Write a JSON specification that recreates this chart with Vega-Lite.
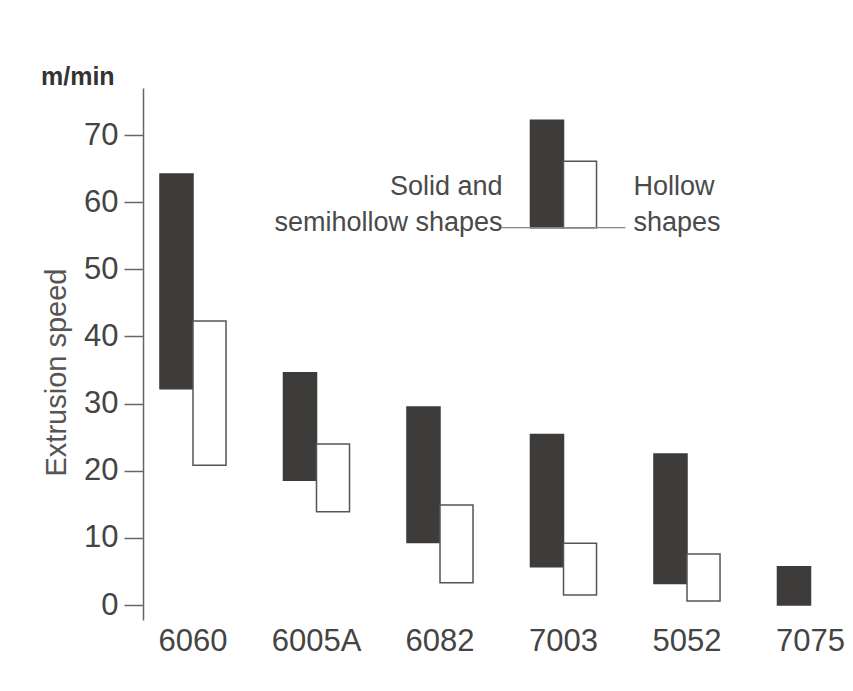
{
  "$schema": "https://vega.github.io/schema/vega-lite/v6.json",
  "width": 692,
  "height": 532,
  "autosize": {"type": "none"},
  "padding": {"left": 143, "top": 88, "right": 18, "bottom": 71},
  "background": "white",
  "title": {
    "text": "m/min",
    "anchor": "start",
    "frame": "group",
    "dx": -102,
    "offset": -22,
    "baseline": "alphabetic",
    "font": "Liberation Sans",
    "fontSize": 25,
    "fontWeight": "bold",
    "color": "#333333"
  },
  "datasets": {
    "speeds": [
      {"alloy": "6060", "type": "Solid", "low": 32.2, "high": 64.2},
      {"alloy": "6060", "type": "Hollow", "low": 20.8, "high": 42.3},
      {"alloy": "6005A", "type": "Solid", "low": 18.6, "high": 34.6},
      {"alloy": "6005A", "type": "Hollow", "low": 13.9, "high": 24.0},
      {"alloy": "6082", "type": "Solid", "low": 9.3, "high": 29.5},
      {"alloy": "6082", "type": "Hollow", "low": 3.3, "high": 14.9},
      {"alloy": "7003", "type": "Solid", "low": 5.7, "high": 25.4},
      {"alloy": "7003", "type": "Hollow", "low": 1.5, "high": 9.2},
      {"alloy": "5052", "type": "Solid", "low": 3.2, "high": 22.5},
      {"alloy": "5052", "type": "Hollow", "low": 0.6, "high": 7.6},
      {"alloy": "7075", "type": "Solid", "low": 0, "high": 5.7}
    ],
    "legendBars": [
      {"alloy": "7003", "type": "Solid", "low": 56.2, "high": 72.2},
      {"alloy": "7003", "type": "Hollow", "low": 56.2, "high": 66.1}
    ],
    "legendLine": [
      {"alloy": "7003", "y": 56.2}
    ],
    "legendText": [
      {"alloy": "7003", "side": "left", "label": "Solid and\nsemihollow shapes", "y": 61.1},
      {"alloy": "7003", "side": "right", "label": "Hollow\nshapes", "y": 61.1}
    ]
  },
  "layer": [
    {
      "data": {"name": "speeds"},
      "mark": {"type": "bar", "strokeWidth": 1.5},
      "encoding": {
        "x": {
          "field": "alloy", "type": "nominal",
          "sort": ["6060", "6005A", "6082", "7003", "5052", "7075"],
          "scale": {"range": [-11.75, 729.25], "paddingInner": 0, "paddingOuter": 0},
          "axis": {"title": null, "domain": false, "ticks": false, "labelAngle": 0, "labelPadding": 6, "labelFontSize": 31, "labelColor": "#444444", "labelFont": "Liberation Sans", "labelBaseline": "top"}
        },
        "xOffset": {
          "field": "type", "type": "nominal",
          "sort": ["Solid", "Hollow"],
          "scale": {"paddingInner": 0, "paddingOuter": 0.87}
        },
        "y": {
          "field": "low", "type": "quantitative",
          "scale": {"domain": [-2.23, 77], "nice": false, "zero": false},
          "axis": {
            "title": "Extrusion speed",
            "values": [0, 10, 20, 30, 40, 50, 60, 70],
            "grid": false,
            "domainColor": "#666666", "domainWidth": 1.5,
            "tickColor": "#666666", "tickWidth": 1.5, "tickSize": 19,
            "labelPadding": 6, "labelFontSize": 31, "labelColor": "#444444", "labelFont": "Liberation Sans",
            "titleFontSize": 29, "titleFont": "Liberation Sans", "titleFontWeight": "normal", "titleColor": "#555555",
            "titleX": -87, "titleY": 284, "titleAngle": -90, "titleAlign": "center", "titleBaseline": "middle"
          }
        },
        "y2": {"field": "high"},
        "fill": {"field": "type", "type": "nominal", "scale": {"domain": ["Solid", "Hollow"], "range": ["#3e3b3b", "#ffffff"]}, "legend": null},
        "stroke": {"field": "type", "type": "nominal", "scale": {"domain": ["Solid", "Hollow"], "range": ["#3e3b3b", "#555555"]}, "legend": null}
      }
    },
    {
      "data": {"name": "legendBars"},
      "mark": {"type": "bar", "strokeWidth": 1.5},
      "encoding": {
        "x": {"field": "alloy", "type": "nominal", "sort": ["6060", "6005A", "6082", "7003", "5052", "7075"]},
        "xOffset": {"field": "type", "type": "nominal", "sort": ["Solid", "Hollow"]},
        "y": {"field": "low", "type": "quantitative"},
        "y2": {"field": "high"},
        "fill": {"field": "type", "type": "nominal", "legend": null},
        "stroke": {"field": "type", "type": "nominal", "legend": null}
      }
    },
    {
      "data": {"name": "legendLine"},
      "mark": {"type": "bar", "fill": null, "stroke": "#888888", "strokeWidth": 1},
      "encoding": {
        "x": {"field": "alloy", "type": "nominal", "sort": ["6060", "6005A", "6082", "7003", "5052", "7075"]},
        "y": {"field": "y", "type": "quantitative"},
        "y2": {"field": "y"}
      }
    },
    {
      "data": {"name": "legendText"},
      "transform": [{"filter": "datum.side == 'left'"}],
      "mark": {"type": "text", "align": "right", "baseline": "alphabetic", "dx": -61, "lineBreak": "\n", "lineHeight": 36, "font": "Liberation Sans", "fontSize": 27, "fill": "#4a4a4a"},
      "encoding": {
        "x": {"field": "alloy", "type": "nominal", "sort": ["6060", "6005A", "6082", "7003", "5052", "7075"]},
        "y": {"field": "y", "type": "quantitative"},
        "text": {"field": "label"}
      }
    },
    {
      "data": {"name": "legendText"},
      "transform": [{"filter": "datum.side == 'right'"}],
      "mark": {"type": "text", "align": "left", "baseline": "alphabetic", "dx": 70, "lineBreak": "\n", "lineHeight": 36, "font": "Liberation Sans", "fontSize": 27, "fill": "#4a4a4a"},
      "encoding": {
        "x": {"field": "alloy", "type": "nominal", "sort": ["6060", "6005A", "6082", "7003", "5052", "7075"]},
        "y": {"field": "y", "type": "quantitative"},
        "text": {"field": "label"}
      }
    },
    {
      "mark": {"type": "rule", "stroke": "#666666", "strokeWidth": 1.5},
      "encoding": {"y": {"datum": 0, "type": "quantitative"}}
    }
  ],
  "config": {
    "view": {"stroke": null},
    "font": "Liberation Sans",
    "axis": {"grid": false}
  }
}
